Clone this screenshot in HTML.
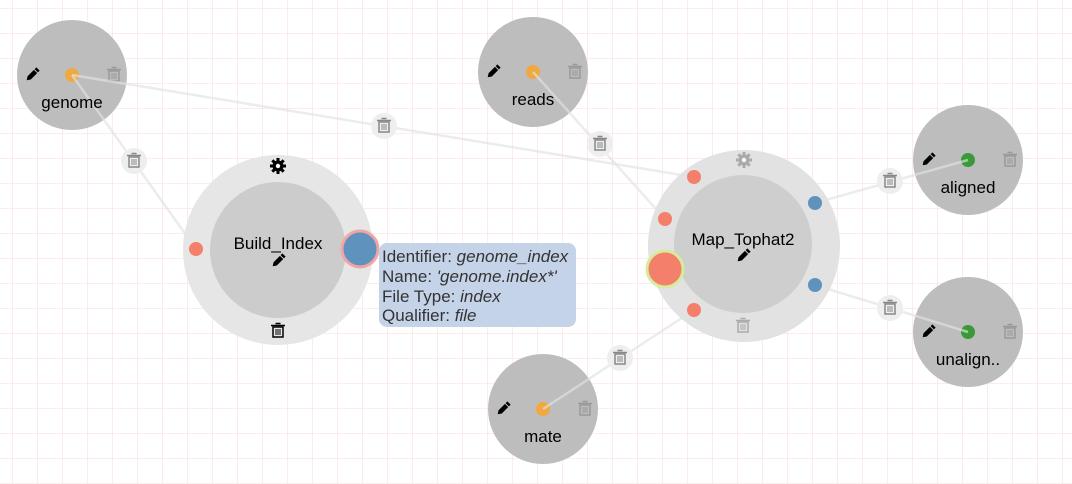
<!DOCTYPE html>
<html><head><meta charset="utf-8"><style>
html,body{margin:0;padding:0;background:#fff;}
svg{display:block;font-family:"Liberation Sans",sans-serif;}
</style></head><body>
<svg width="1072" height="484" viewBox="0 0 1072 484" xmlns="http://www.w3.org/2000/svg">
<defs>
<pattern id="g" x="12" y="8" width="25" height="25" patternUnits="userSpaceOnUse">
<path d="M0 0H25M0 0V25" stroke="#fbe0e0" stroke-width="1.3" fill="none"/>
</pattern>
<g id="trash">
<path d="M-5-4h10v10h-10z" fill="none" stroke="currentColor" stroke-width="1.5"/>
<path d="M-7-5.5h14M-2.5-7.5h5" stroke="currentColor" stroke-width="1.5"/>
<path d="M-2-2v6M0-2v6M2-2v6" stroke="currentColor" stroke-width="1"/>
</g>
<g id="pencil">
<g transform="rotate(-45)">
<path d="M-4-2.3h9v4.6h-9zM-4-2.3l-3.5 2.3 3.5 2.3z" fill="#000"/>
<rect x="6" y="-2.3" width="2.5" height="4.6" fill="#000"/>
</g>
</g>
<g id="gear">
<circle r="5.5" fill="currentColor"/>
<g stroke="currentColor" stroke-width="3">
<path d="M0-8V8M-8 0H8M-5.7-5.7L5.7 5.7M-5.7 5.7L5.7-5.7"/>
</g>
<circle r="2.2" fill="#fff"/>
</g>
</defs>
<rect width="1072" height="484" fill="url(#g)"/>
<!-- data nodes -->
<g>
<circle cx="72" cy="75" r="55" fill="#bdbdbd"/>
<use href="#pencil" x="32" y="75"/><circle cx="72" cy="75" r="7" fill="#f0a940"/>
<use href="#trash" x="114" y="75" color="#999"/>
<circle cx="533" cy="72" r="55" fill="#bdbdbd"/>
<use href="#pencil" x="493" y="72"/><circle cx="533" cy="72" r="7" fill="#f0a940"/>
<use href="#trash" x="575" y="72" color="#999"/>
<circle cx="968" cy="160" r="55" fill="#bdbdbd"/>
<use href="#pencil" x="928" y="160"/><circle cx="968" cy="160" r="7" fill="#3a9a3a"/>
<use href="#trash" x="1010" y="160" color="#999"/>
<circle cx="968" cy="332" r="55" fill="#bdbdbd"/>
<use href="#pencil" x="928" y="332"/><circle cx="968" cy="332" r="7" fill="#3a9a3a"/>
<use href="#trash" x="1010" y="332" color="#999"/>
<circle cx="543" cy="409" r="55" fill="#bdbdbd"/>
<use href="#pencil" x="503" y="409"/><circle cx="543" cy="409" r="7" fill="#f0a940"/>
<use href="#trash" x="585" y="409" color="#999"/>
</g>
<!-- edges -->
<g stroke="#e2e2e2" stroke-width="2.5" fill="none" stroke-opacity="0.65">
<line x1="72" y1="75" x2="196" y2="249"/>
<line x1="72" y1="75" x2="694" y2="177"/>
<line x1="533" y1="72" x2="665" y2="219"/>
<line x1="543" y1="409" x2="694" y2="310"/>
<line x1="815" y1="203" x2="968" y2="160"/>
<line x1="815" y1="285" x2="968" y2="332"/>
</g>
<g font-size="17" text-anchor="middle">
<text x="72" y="108">genome</text>
<text x="533" y="105">reads</text>
<text x="968" y="193">aligned</text>
<text x="968" y="365">unalign..</text>
<text x="543" y="442">mate</text>
</g>
<g fill="#eeeeee">
<circle cx="134" cy="161" r="13"/><circle cx="384" cy="126" r="13"/>
<circle cx="600" cy="144" r="13"/><circle cx="620" cy="358" r="13"/>
<circle cx="890" cy="181" r="13"/><circle cx="890" cy="308" r="13"/>
</g>
<g color="#888">
<use href="#trash" x="134" y="161"/><use href="#trash" x="384" y="126"/>
<use href="#trash" x="600" y="144"/><use href="#trash" x="620" y="358"/>
<use href="#trash" x="890" y="181"/><use href="#trash" x="890" y="308"/>
</g>
<!-- Build_Index -->
<circle cx="278" cy="250" r="95" fill="#e6e6e6"/>
<circle cx="278" cy="250" r="68" fill="#cccccc"/>
<text x="278" y="249" font-size="17" text-anchor="middle">Build_Index</text>
<use href="#pencil" x="278" y="261"/>
<use href="#gear" x="278" y="166" color="#000"/>
<use href="#trash" x="278" y="331" color="#000"/>
<circle cx="196" cy="249" r="7" fill="#f47f6b"/>
<circle cx="360" cy="249" r="18" fill="#5f93bd" stroke="#f2a5a5" stroke-width="3"/>
<!-- tooltip -->
<rect x="379" y="243" width="197" height="84" rx="8" fill="#c5d3e8"/>
<g font-size="17" fill="#333">
<text x="382" y="262">Identifier: <tspan font-style="italic">genome_index</tspan></text>
<text x="382" y="282">Name: <tspan font-style="italic">'genome.index*'</tspan></text>
<text x="382" y="302">File Type: <tspan font-style="italic">index</tspan></text>
<text x="382" y="321">Qualifier: <tspan font-style="italic">file</tspan></text>
</g>
<!-- Map_Tophat2 -->
<circle cx="744" cy="246" r="96" fill="#e2e2e2"/>
<circle cx="743" cy="244" r="69" fill="#cecece"/>
<text x="743" y="245" font-size="17" text-anchor="middle">Map_Tophat2</text>
<use href="#pencil" x="743" y="256"/>
<use href="#gear" x="744" y="160" color="#aaa"/>
<use href="#trash" x="743" y="326" color="#aaa"/>
<circle cx="694" cy="177" r="7" fill="#f47f6b"/>
<circle cx="665" cy="219" r="7" fill="#f47f6b"/>
<circle cx="694" cy="310" r="7" fill="#f47f6b"/>
<circle cx="665" cy="269" r="18" fill="#f47f6b" stroke="#d6ec9a" stroke-width="3"/>
<circle cx="815" cy="203" r="7" fill="#5f93bd"/>
<circle cx="815" cy="285" r="7" fill="#5f93bd"/>
</svg>
</body></html>
